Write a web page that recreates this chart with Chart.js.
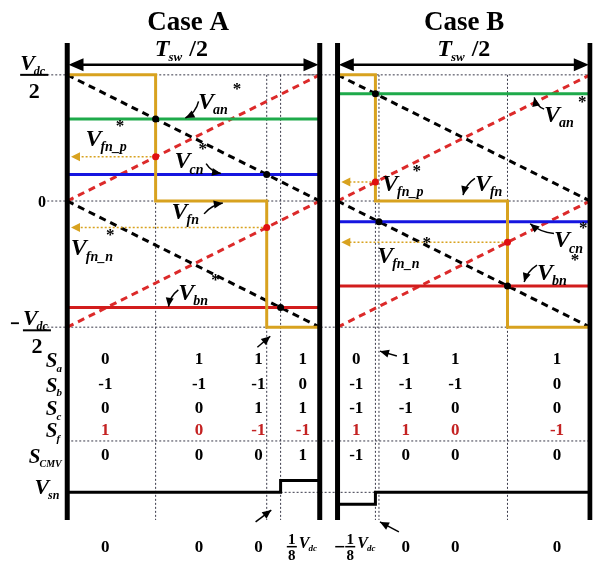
<!DOCTYPE html>
<html>
<head>
<meta charset="utf-8">
<script src="https://cdn.jsdelivr.net/npm/chart.js@4.4.0/dist/chart.umd.min.js"></script>
<style>
  html, body { margin: 0; padding: 0; background: #fff; }
  canvas { display: block; }
</style>
</head>
<body>
<canvas id="c" width="596" height="562"></canvas>
<script>
// Time axis: fraction of Tsw/2 inside each case; voltage axis: units of Vdc/2.
const caseNames = ['Case A', 'Case B'];

// Reference voltages (units of Vdc/2)
const vanRef = [0.65, 0.85];
const vcnRef = [0.21, -0.164];
const vbnRef = [-0.845, -0.673];

// Instants where each reference meets the falling carrier (fraction of Tsw/2)
const vanCross = [0.35, 0.15];
const vcnCross = [0.79, 0.164];
const vbnCross = [0.845, 0.673];

// Flying-node voltage Vfn: switching instants (+1 -> 0, 0 -> -1)
const vfnDown1 = [0.35, 0.15];
const vfnDown2 = [0.79, 0.673];
// Vfn_p* / Vfn_n* sampled on the rising carriers
const vfnP = [0.35, 0.15];
const vfnN = [-0.21, -0.327];

// Carrier end values at t = 0 and t = 1
const blackUpper = [1, 0];
const blackLower = [0, -1];
const redUpper = [0, 1];
const redLower = [-1, 0];

// Common-mode voltage Vsn (units of Vdc)
const vsnStart = [0, -0.125];
const vsnEnd = [0.125, 0];
const vsnStep = [0.845, 0.15];

// Switching-state table
const rowLabels = ['a', 'b', 'c', 'f', 'CMV'];
const stateA = [
  ['0', '1', '1', '1'],
  ['-1', '-1', '-1', '0'],
  ['0', '0', '1', '1'],
  ['1', '0', '-1', '-1'],
  ['0', '0', '0', '1']
];
const stateB = [
  ['0', '1', '1', '1'],
  ['-1', '-1', '-1', '0'],
  ['-1', '-1', '0', '0'],
  ['1', '1', '0', '-1'],
  ['-1', '0', '0', '0']
];
const vsnTextA = ['0', '0', '0', '1/8'];
const vsnTextB = ['-1/8', '0', '0', '0'];

// ---- layout ----
const off = [0, 1.0705];
const TOP = 1.252, BOTTOM = -2.528, ARROW_Y = 1.08, TABLE_SEP = -1.902;
const colT = [[0.151, 0.522, 0.757, 0.933], [0.074, 0.27, 0.466, 0.869]];
const rowY = [-1.26, -1.456, -1.644, -1.816, -2.02];
const vsnRowY = -2.75;

const SERIF = "'Liberation Serif', 'Times New Roman', serif";
const C_GREEN = '#1EAA4A', C_BLUE = '#1515E0', C_RED = '#D21C1C', C_REDD = '#DC2A2A',
      C_GOLD = '#D8A21F', C_DOT = '#3a3a4a', C_TRED = '#C42222';

const datasets = [];
function add(data, o) {
  datasets.push(Object.assign({
    data, showLine: true, pointRadius: 0, pointHoverRadius: 0, borderWidth: 1,
    borderColor: '#000', backgroundColor: '#000', fill: false, tension: 0,
    yAxisID: 'y', order: 5
  }, o));
}
const P = (c, t, v) => ({ x: off[c] + t, y: v });
const dotted = { borderColor: C_DOT, borderDash: [2, 2], borderWidth: 1, order: 6 };

for (let c = 0; c < 2; c++) {
  const left = c === 0 ? -0.095 : -0.13;
  [1, 0, -1].forEach(v => add([P(c, left, v), P(c, 1, v)], dotted));
  [vanCross[c], vcnCross[c], vbnCross[c]].forEach(t =>
    add([P(c, t, 1), P(c, t, BOTTOM)], dotted));

  // carriers
  const dashB = { borderColor: '#000', borderDash: [7, 5], borderWidth: 3, order: 3 };
  const dashR = { borderColor: C_REDD, borderDash: [7, 5], borderWidth: 3, order: 4 };
  add([P(c, 0, blackUpper[0]), P(c, 1, blackUpper[1])], dashB);
  add([P(c, 0, blackLower[0]), P(c, 1, blackLower[1])], dashB);
  add([P(c, 0, redUpper[0]), P(c, 1, redUpper[1])], dashR);
  add([P(c, 0, redLower[0]), P(c, 1, redLower[1])], dashR);

  // references
  add([P(c, 0, vanRef[c]), P(c, 1, vanRef[c])], { borderColor: C_GREEN, borderWidth: 3, order: 2 });
  add([P(c, 0, vcnRef[c]), P(c, 1, vcnRef[c])], { borderColor: C_BLUE, borderWidth: 3, order: 2 });
  add([P(c, 0, vbnRef[c]), P(c, 1, vbnRef[c])], { borderColor: C_RED, borderWidth: 3, order: 2 });

  // Vfn
  add([P(c, 0, 1), P(c, vfnDown1[c], 1), P(c, vfnDown1[c], 0), P(c, vfnDown2[c], 0),
       P(c, vfnDown2[c], -1), P(c, 1, -1)],
      { borderColor: C_GOLD, borderWidth: 3, order: 1 });

  // sampled levels carried to the left edge
  add([P(c, vfnDown1[c], vfnP[c]), P(c, 0.03, vfnP[c])], { borderColor: C_GOLD, borderDash: [2, 2], borderWidth: 1.5, order: 1 });
  add([P(c, vfnDown2[c], vfnN[c]), P(c, 0.03, vfnN[c])], { borderColor: C_GOLD, borderDash: [2, 2], borderWidth: 1.5, order: 1 });

  // crossing dots
  add([P(c, vanCross[c], vanRef[c]), P(c, vcnCross[c], vcnRef[c]), P(c, vbnCross[c], vbnRef[c])],
      { showLine: false, pointRadius: 3.5, pointBackgroundColor: '#000', pointBorderWidth: 0, order: 0 });
  add([P(c, vfnDown1[c], vfnP[c]), P(c, vfnDown2[c], vfnN[c])],
      { showLine: false, pointRadius: 3.5, pointBackgroundColor: '#E01010', pointBorderWidth: 0, order: 0 });

  // Vsn
  add([{ x: off[c], y: vsnStart[c] }, { x: off[c] + vsnStep[c], y: vsnStart[c] },
       { x: off[c] + vsnStep[c], y: vsnEnd[c] }, { x: off[c] + 1, y: vsnEnd[c] }],
      { yAxisID: 'v', borderWidth: 3, order: 1 });

  // frame and period arrow
  add([P(c, 0, TOP), P(c, 0, BOTTOM)], { borderWidth: 5, order: 0 });
  add([P(c, 1, TOP), P(c, 1, BOTTOM)], { borderWidth: 5, order: 0 });
  add([P(c, 0.02, ARROW_Y), P(c, 0.98, ARROW_Y)], { borderWidth: 2.5, order: 0 });
}
// table separator and Vsn zero line
add([P(0, 0, TABLE_SEP), P(1, 1, TABLE_SEP)], dotted);
add([{ x: off[0] + vsnStep[0], y: 0 }, { x: off[1] + vsnStep[1], y: 0 }], Object.assign({}, dotted, { yAxisID: 'v' }));

// ---- text helpers ----
function font(size, style) { return `${style || 'bold'} ${size}px ${SERIF}`; }
function sym(ctx, x, y, main, sub, sup, o) {
  o = o || {};
  const ms = o.size || 24, ss = o.sub || 14;
  ctx.textAlign = 'left'; ctx.textBaseline = 'alphabetic';
  ctx.font = font(ms, 'italic bold');
  ctx.fillText(main, x, y);
  const w = ctx.measureText(main).width;
  ctx.font = font(ss, 'italic bold');
  ctx.fillText(sub, x + w - 1, y + ms * 0.22);
  const w2 = ctx.measureText(sub).width;
  if (sup) {
    ctx.font = font(Math.round(ms * 0.7), 'bold');
    ctx.fillText(sup, x + w + w2 + (o.supDx || 3), y - ms * 0.62);
  }
}
function head(ctx, x0, y0, x1, y1, len, hw) {
  const a = Math.atan2(y1 - y0, x1 - x0);
  ctx.beginPath();
  ctx.moveTo(x1, y1);
  ctx.lineTo(x1 - len * Math.cos(a) + hw * Math.sin(a), y1 - len * Math.sin(a) - hw * Math.cos(a));
  ctx.lineTo(x1 - len * Math.cos(a) - hw * Math.sin(a), y1 - len * Math.sin(a) + hw * Math.cos(a));
  ctx.closePath();
  ctx.fill();
}
function curvedArrow(ctx, x0, y0, x1, y1, bend) {
  const mx = (x0 + x1) / 2, my = (y0 + y1) / 2;
  const dx = x1 - x0, dy = y1 - y0, L = Math.hypot(dx, dy);
  const cx = mx - dy / L * bend, cy = my + dx / L * bend;
  ctx.beginPath(); ctx.moveTo(x0, y0); ctx.quadraticCurveTo(cx, cy, x1, y1);
  ctx.lineWidth = 1.5; ctx.strokeStyle = '#000'; ctx.stroke();
  head(ctx, cx, cy, x1, y1, 9, 4);
}

// label placements: [case, t, v, main, sub, sup, supDx]
const symLabels = [
  [0, 0.518, 0.728, 'V', 'an', '*', 4],
  [0, 0.072, 0.438, 'V', 'fn_p', '*', -12],
  [0, 0.425, 0.258, 'V', 'cn', '*', -6],
  [0, 0.413, -0.141, 'V', 'fn', null],
  [0, 0.014, -0.43, 'V', 'fn_n', '*', -8],
  [0, 0.44, -0.783, 'V', 'bn', '*', 2],
  [1, 0.818, 0.626, 'V', 'an', '*', 0],
  [1, 0.176, 0.078, 'V', 'fn_p', '*', -12],
  [1, 0.544, 0.078, 'V', 'fn', null],
  [1, 0.857, -0.368, 'V', 'cn', '*', -5],
  [1, 0.79, -0.626, 'V', 'bn', '*', 0],
  [1, 0.157, -0.493, 'V', 'fn_n', '*', 2]
];
// pointer arrows: [case, tTail, vTail, tHead, vHead, bend]
const pointers = [
  [0, 0.52, 0.79, 0.468, 0.658, -5],
  [0, 0.55, 0.297, 0.609, 0.219, 4],
  [0, 0.542, -0.102, 0.616, -0.016, -4],
  [0, 0.44, -0.705, 0.401, -0.838, 4],
  [0, 0.753, -1.159, 0.804, -1.072, 0],
  [0, 0.746, -2.544, 0.808, -2.45, 0],
  [1, 0.818, 0.728, 0.779, 0.822, -4],
  [1, 0.544, 0.18, 0.497, 0.047, 4],
  [1, 0.857, -0.258, 0.763, -0.18, -4],
  [1, 0.79, -0.509, 0.739, -0.642, 4],
  [1, 0.235, -1.229, 0.168, -1.19, 0],
  [1, 0.243, -2.622, 0.168, -2.544, 0]
];

const textPlugin = {
  id: 'diagramText',
  afterDatasetsDraw(chart) {
    const ctx = chart.ctx;
    const X = (c, t) => chart.scales.x.getPixelForValue(off[c] + t);
    const Y = v => chart.scales.y.getPixelForValue(v);
    ctx.save();
    ctx.fillStyle = '#000';

    for (let c = 0; c < 2; c++) {
      // titles
      ctx.textAlign = 'center'; ctx.textBaseline = 'alphabetic';
      ctx.font = font(27);
      ctx.fillText(caseNames[c], X(c, c === 0 ? 0.479 : 0.501), Y(1.354));
      // Tsw/2
      const cx = X(c, c === 0 ? 0.452 : 0.50), by = Y(1.151);
      ctx.font = font(24, 'italic bold');
      const wT = ctx.measureText('T').width;
      ctx.font = font(13, 'italic bold');
      const wS = ctx.measureText('sw').width;
      ctx.font = font(24);
      const wR = ctx.measureText(' /2').width;
      let x0 = cx - (wT + wS + wR) / 2;
      ctx.textAlign = 'left';
      ctx.font = font(24, 'italic bold'); ctx.fillText('T', x0, by);
      ctx.font = font(13, 'italic bold'); ctx.fillText('sw', x0 + wT - 1, by + 5);
      ctx.font = font(24); ctx.fillText(' /2', x0 + wT + wS, by);
      // period arrow heads
      const ay = Y(ARROW_Y);
      head(ctx, X(c, 0.5), ay, X(c, 0.005), ay, 15, 6.5);
      head(ctx, X(c, 0.5), ay, X(c, 0.995), ay, 15, 6.5);
      // sampled-level arrow heads
      ctx.fillStyle = C_GOLD;
      head(ctx, X(c, 0.3), Y(vfnP[c]), X(c, 0.015), Y(vfnP[c]), 9, 4.5);
      head(ctx, X(c, 0.3), Y(vfnN[c]), X(c, 0.015), Y(vfnN[c]), 9, 4.5);
      ctx.fillStyle = '#000';

      // state table
      const st = c === 0 ? stateA : stateB;
      ctx.textAlign = 'center'; ctx.textBaseline = 'middle';
      ctx.font = font(17);
      st.forEach((row, r) => row.forEach((s, k) => {
        ctx.fillStyle = r === 3 ? C_TRED : '#000';
        ctx.fillText(s, X(c, colT[c][k]), Y(rowY[r]));
      }));
      ctx.fillStyle = '#000';
      // Vsn values
      const vt = c === 0 ? vsnTextA : vsnTextB;
      vt.forEach((s, k) => {
        const px = X(c, colT[c][k]);
        if (s.indexOf('/') < 0) {
          ctx.textAlign = 'center'; ctx.textBaseline = 'middle'; ctx.font = font(17);
          ctx.fillText(s, px, Y(vsnRowY));
        } else {
          const neg = s[0] === '-';
          const parts = s.replace('-', '').split('/');
          const fx = neg ? px - 6 : px - 11;
          const ly = Y(vsnRowY) - 2;
          ctx.textAlign = 'center'; ctx.textBaseline = 'alphabetic'; ctx.font = font(15);
          ctx.fillText(parts[0], fx, ly - 2);
          ctx.fillText(parts[1], fx, ly + 14);
          ctx.fillRect(fx - 5, ly, 10, 1.5);
          if (neg) ctx.fillRect(fx - 15, ly, 9, 1.5);
          sym(ctx, fx + 7, ly + 2, 'V', 'dc', null, { size: 16, sub: 9 });
        }
      });
    }

    // row labels
    ctx.fillStyle = '#000';
    const rowX = X(0, -0.085);
    rowLabels.forEach((lab, r) => {
      if (lab === 'CMV') sym(ctx, X(0, -0.152), Y(rowY[r]) + 7, 'S', 'CMV', null, { size: 21, sub: 10 });
      else sym(ctx, rowX, Y(rowY[r]) + 7, 'S', lab, null, { size: 21, sub: 11 });
    });
    sym(ctx, X(0, -0.13), Y(-2.325), 'V', 'sn', null, { size: 22, sub: 12 });

    // voltage level labels
    const fracV = (cx, ly, neg) => {
      ctx.fillRect(cx - 14, ly - 1, 28, 2);
      sym(ctx, cx - 14, ly - 5, 'V', 'dc', null, { size: 22, sub: 12 });
      ctx.textAlign = 'center'; ctx.textBaseline = 'alphabetic'; ctx.font = font(22);
      ctx.fillText('2', cx, ly + 23);
      if (neg) ctx.fillRect(cx - 26, ly - 8, 8, 1.8);
    };
    fracV(X(0, -0.131), Y(1.0), false);
    fracV(X(0, -0.12), Y(-1.025), true);
    ctx.textAlign = 'center'; ctx.textBaseline = 'middle'; ctx.font = font(16);
    ctx.fillText('0', X(0, -0.1), Y(-0.016));

    // signal labels
    symLabels.forEach(([c, t, v, m, s, sp, dx]) =>
      sym(ctx, X(c, t), Y(v), m, s, sp, { size: 24, sub: 14, supDx: dx }));
    pointers.forEach(([c, t0, v0, t1, v1, b]) =>
      curvedArrow(ctx, X(c, t0), Y(v0), X(c, t1), Y(v1), b));

    ctx.restore();
  }
};

const chart = new Chart(document.getElementById('c'), {
  type: 'scatter',
  data: { datasets },
  options: {
    responsive: false,
    animation: false,
    layout: { padding: 0 },
    plugins: { legend: { display: false }, tooltip: { enabled: false } },
    scales: {
      x: { type: 'linear', display: false, min: -0.2524, max: 2.0802 },
      y: { type: 'linear', display: false, min: -2.8337, max: 1.5656 },
      v: { type: 'linear', display: false, position: 'right', min: -0.698, max: 5.156 }
    }
  },
  plugins: [textPlugin]
});
</script>
</body>
</html>
